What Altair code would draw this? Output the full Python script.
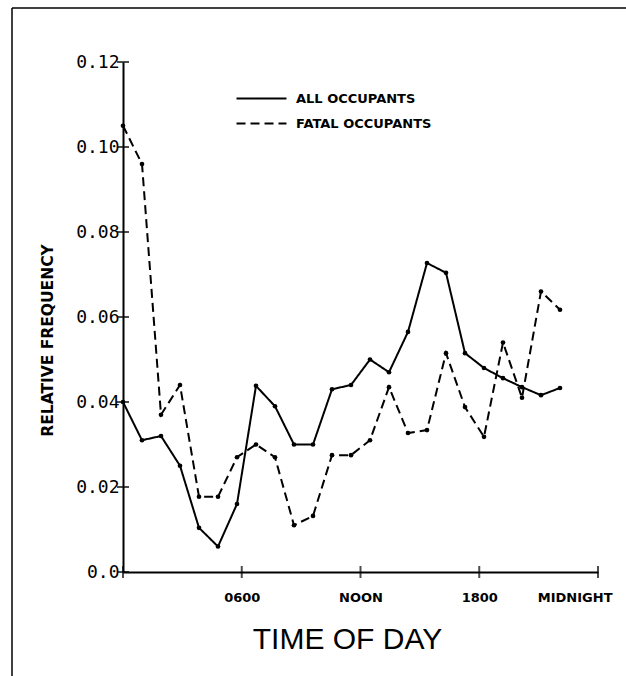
import altair as alt
import pandas as pd

# ---- data ----
hours = list(range(24))
all_occupants = [0.040, 0.031, 0.032, 0.025, 0.0104, 0.006, 0.016, 0.0438,
                 0.039, 0.030, 0.030, 0.043, 0.044, 0.050, 0.047, 0.0565,
                 0.0727, 0.0704, 0.0515, 0.048, 0.0456, 0.0435, 0.0416, 0.0433]
fatal_occupants = [0.105, 0.096, 0.037, 0.044, 0.0177, 0.0177, 0.027, 0.030,
                   0.027, 0.011, 0.0132, 0.0275, 0.0275, 0.031, 0.0435, 0.0327,
                   0.0334, 0.0515, 0.0388, 0.0318, 0.054, 0.041, 0.066, 0.0617]
series_names = ["ALL OCCUPANTS", "FATAL OCCUPANTS"]
x_tick_values = [0, 6.25, 12.5, 18.75, 25]
x_tick_labels = ["", "0600", "NOON", "1800", "MIDNIGHT"]
y_tick_values = [0.0, 0.02, 0.04, 0.06, 0.08, 0.10, 0.12]

df = pd.DataFrame({
    "hour": hours * 2,
    "freq": all_occupants + fatal_occupants,
    "series": [series_names[0]] * 24 + [series_names[1]] * 24,
})
xticks_df = pd.DataFrame({"x": x_tick_values})
yticks_df = pd.DataFrame({"y": y_tick_values})

label_map = "{" + ",".join(f"'{v}':'{l}'" for v, l in zip(x_tick_values, x_tick_labels)) + "}"

xscale = alt.Scale(domain=[0, 25], nice=False, zero=True)
yscale = alt.Scale(domain=[0, 0.12], nice=False)

xaxis = alt.Axis(values=x_tick_values, labelExpr=f"{label_map}[''+datum.value]",
                 ticks=False, grid=False, domainColor="black", domainWidth=2,
                 labelFont="DejaVu Sans", labelFontWeight="bold", labelFontSize=13,
                 labelColor="black", labelPadding=19, labelFlush=False,
                 labelAlign={"condition": {"test": "datum.value == 25", "value": "right"},
                             "value": "center"},
                 labelOffset={"condition": {"test": "datum.value == 25", "value": 14},
                              "value": 0},
                 title="TIME OF DAY", titleFont="Liberation Sans", titleFontSize=30,
                 titleFontWeight="normal", titleColor="black", titlePadding=20,
                 titleX=224, titleAlign="center")
yaxis = alt.Axis(values=y_tick_values,
                 labelExpr="datum.value == 0 ? '0.0' : format(datum.value, '.2f')",
                 ticks=False, grid=False, domainColor="black", domainWidth=2,
                 labelFont="DejaVu Sans Mono", labelFontSize=18, labelColor="black",
                 labelPadding=4,
                 title="RELATIVE FREQUENCY", titleFont="DejaVu Sans", titleFontSize=15.5,
                 titleFontWeight="bold", titleColor="black",
                 titleX=-76, titleY=278, titleAngle=270, titleBaseline="middle",
                 titleAlign="center")

lines = alt.Chart(df).mark_line(color="black", strokeWidth=2).encode(
    x=alt.X("hour:Q", scale=xscale, axis=xaxis),
    y=alt.Y("freq:Q", scale=yscale, axis=yaxis),
    strokeDash=alt.StrokeDash(
        "series:N",
        scale=alt.Scale(domain=series_names, range=[[1, 0], [9, 5]]),
        legend=alt.Legend(orient="none", legendX=131, legendY=29, title=None,
                          symbolType="M-4,0H4", symbolStrokeWidth=2,
                          symbolStrokeColor="black", symbolSize=156,
                          labelFont="DejaVu Sans", labelFontWeight="bold",
                          labelFontSize=13, labelColor="black", labelOffset=27,
                          rowPadding=10),
    ),
)

points = alt.Chart(df).mark_circle(color="black", size=22, opacity=1).encode(
    x=alt.X("hour:Q", scale=xscale),
    y=alt.Y("freq:Q", scale=yscale),
)

xticks = alt.Chart(xticks_df).mark_tick(color="black", thickness=2, size=12,
                                        orient="vertical").encode(
    x=alt.X("x:Q", scale=xscale), y=alt.YDatum(0)
)
yticks = alt.Chart(yticks_df).mark_tick(color="black", thickness=2, size=12,
                                        orient="horizontal").encode(
    y=alt.Y("y:Q", scale=yscale), x=alt.XDatum(0)
)

border_top = alt.Chart(pd.DataFrame({"a": [0]})).mark_rule(color="black", strokeWidth=1.5).encode(
    x=alt.value(-111), x2=alt.value(510), y=alt.value(-54))
border_left = alt.Chart(pd.DataFrame({"a": [0]})).mark_rule(color="black", strokeWidth=1.5).encode(
    x=alt.value(-111), y=alt.value(-54), y2=alt.value(620))

chart = alt.layer(border_top, border_left, lines, points, xticks, yticks).properties(
    width=475, height=510,
    autosize=alt.AutoSizeParams(type="none"),
    padding={"left": 123, "top": 62, "right": 28, "bottom": 104},
    background="white",
).configure_view(stroke=None)

chart.save("out.html", embed_options={"renderer": "svg", "actions": False})
